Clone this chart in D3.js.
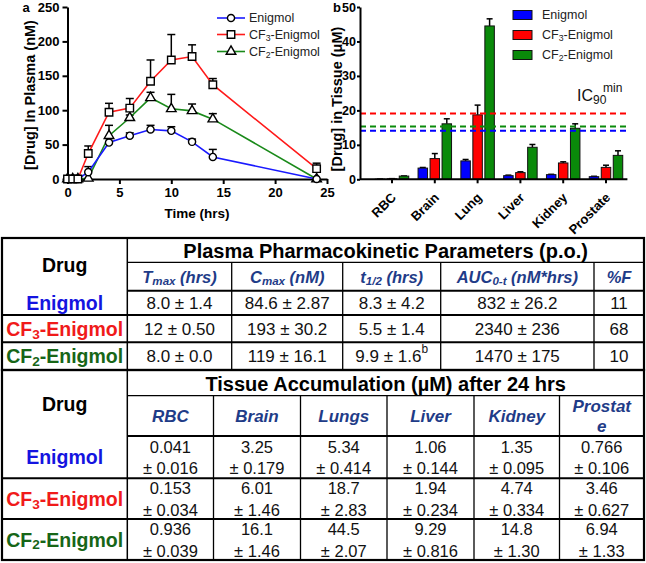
<!DOCTYPE html>
<html><head><meta charset="utf-8">
<script src="https://cdn.jsdelivr.net/npm/d3@7"></script>
<style>body{margin:0;background:#fff}svg{display:block;font-family:Arial,"Liberation Sans",Helvetica,sans-serif}</style>
</head><body><svg id="c" width="646" height="563"></svg>
<script>
// ---------- DATA ----------
const times = [0, 0.5, 1, 2, 4, 6, 8, 10, 12, 14, 24];
const enigmolPlasma = [0, 0, 0, 10, 53, 63, 72, 70, 54, 32, 0];
const enigmolPlasmaErr = [0, 0, 0, 8, 6, 4, 6, 6, 4, 11, 0];
const cf3Plasma = [0, 0, 0, 37, 97, 103, 142, 173, 178, 137, 15];
const cf3PlasmaErr = [0, 0, 0, 11, 13, 14, 31, 37, 17, 9, 8];
const cf2Plasma = [0, 0, 0, 1, 63, 89, 118, 102, 99, 87, 0];
const cf2PlasmaErr = [0, 0, 0, 0, 15, 4, 8, 21, 10, 8, 0];
const plasmaYTicks = [0, 50, 100, 150, 200, 250];
const plasmaXTicks = [0, 5, 10, 15, 20, 25];

const tissues = ["RBC", "Brain", "Lung", "Liver", "Kidney", "Prostate"];
const tissueHeaders = ["RBC", "Brain", "Lungs", "Liver", "Kidney", "Prostate"];
const enigmolTissue = ["0.041", "3.25", "5.34", "1.06", "1.35", "0.766"];
const enigmolTissueErr = ["0.016", "0.179", "0.414", "0.144", "0.095", "0.106"];
const cf3Tissue = ["0.153", "6.01", "18.7", "1.94", "4.74", "3.46"];
const cf3TissueErr = ["0.034", "1.46", "2.83", "0.234", "0.334", "0.627"];
const cf2Tissue = ["0.936", "16.1", "44.5", "9.29", "14.8", "6.94"];
const cf2TissueErr = ["0.039", "1.46", "2.07", "0.816", "1.30", "1.33"];
const ic90min = [14.1, 19.1, 15.3]; // Enigmol, CF3, CF2
const tissueYTicks = [0, 10, 20, 30, 40, 50];

const tmaxVals = ["8.0 ± 1.4", "12 ± 0.50", "8.0 ± 0.0"];
const cmaxVals = ["84.6 ± 2.87", "193 ± 30.2", "119 ± 16.1"];
const halfLifeVals = ["8.3 ± 4.2", "5.5 ± 1.4", "9.9 ± 1.6"];
const halfLifeNote = ["", "", "b"];
const aucVals = ["832 ± 26.2", "2340 ± 236", "1470 ± 175"];
const pctFVals = ["11", "68", "10"];

// ---------- STYLE ----------
const drugs = [
  {parts:[{t:"Enigmol"}], chart:"#1a1aff", table:"#1414e0", marker:"circle",
   plasma:enigmolPlasma, perr:enigmolPlasmaErr, tissue:enigmolTissue, terr:enigmolTissueErr, bar:"#0000ff"},
  {parts:[{t:"CF"},{t:"3",sub:true},{t:"-Enigmol"}], chart:"#ff1a1a", table:"#f01a1a", marker:"square",
   plasma:cf3Plasma, perr:cf3PlasmaErr, tissue:cf3Tissue, terr:cf3TissueErr, bar:"#ff0000"},
  {parts:[{t:"CF"},{t:"2",sub:true},{t:"-Enigmol"}], chart:"#1a8a1a", table:"#176617", marker:"triangle",
   plasma:cf2Plasma, perr:cf2PlasmaErr, tissue:cf2Tissue, terr:cf2TissueErr, bar:"#0a8a0a"}
];
const navy = "#1f3c88";

const svg = d3.select("#c");
svg.append("rect").attr("width",646).attr("height",563).attr("fill","#fff");

function rich(g, x, y, parts, opts){
  const t = g.append("text").attr("x",x).attr("y",y)
    .attr("text-anchor", opts.anchor||"middle")
    .attr("font-size", opts.size).attr("font-weight", opts.weight||"normal")
    .attr("font-style", opts.style||"normal").attr("fill", opts.fill||"#000");
  if (opts.baseline) t.attr("dominant-baseline", opts.baseline);
  let off = 0;
  parts.forEach(p=>{
    const s = t.append("tspan").text(p.t);
    let target = 0;
    if (p.sub) { target = opts.size*0.25; s.attr("font-size", opts.size*0.7); }
    if (p.sup) { target = -opts.size*0.4; s.attr("font-size", opts.size*0.7); }
    if (target !== off) { s.attr("dy", target-off); off = target; }
  });
  return t;
}
function styleAxis(g, fs){
  g.select(".domain").attr("stroke","#000").attr("stroke-width",2);
  g.selectAll(".tick line").attr("stroke","#000").attr("stroke-width",2);
  g.selectAll(".tick text").attr("font-size",fs||13).attr("font-weight","bold").attr("fill","#000")
    .attr("font-family","Arial, 'Liberation Sans', sans-serif");
}
const markerType = {circle:d3.symbolCircle, square:d3.symbolSquare, triangle:d3.symbolTriangle};
const markerSize = {circle:40, square:56, triangle:40};

// ---------- CHART A ----------
const xA = d3.scaleLinear().domain([0,25]).range([67.5,327]);
const yA = d3.scaleLinear().domain([0,250]).range([179,7]);
const gA = svg.append("g");
gA.append("g").attr("transform",`translate(${xA(0)},0)`)
  .call(d3.axisLeft(yA).tickValues(plasmaYTicks).tickSize(5).tickSizeOuter(0).tickPadding(3)).call(styleAxis);
gA.append("g").attr("transform",`translate(0,${yA(0)})`)
  .call(d3.axisBottom(xA).tickValues(plasmaXTicks).tickSize(5).tickSizeOuter(0).tickPadding(4)).call(styleAxis);
gA.append("text").attr("x",197).attr("y",218).attr("text-anchor","middle")
  .attr("font-size",13.5).attr("font-weight","bold").text("Time (hrs)");
gA.append("text").attr("transform","translate(35,95) rotate(-90)").attr("text-anchor","middle")
  .attr("font-size",14.5).attr("font-weight","bold").text("[Drug] In Plasma (nM)");
gA.append("text").attr("x",26).attr("y",12).attr("text-anchor","middle")
  .attr("font-size",13).attr("font-weight","bold").text("a");

const plotOrder = [2,0,1];
plotOrder.forEach(i=>{
  const d = drugs[i];
  const pts = times.map((t,k)=>({t, v:d.plasma[k], e:d.perr[k]}));
  const eg = gA.append("g").attr("stroke","#000").attr("stroke-width",1.5);
  pts.filter(p=>p.e>0).forEach(p=>{
    eg.append("line").attr("x1",xA(p.t)).attr("x2",xA(p.t)).attr("y1",yA(p.v)).attr("y2",yA(p.v+p.e));
    eg.append("line").attr("x1",xA(p.t)-4).attr("x2",xA(p.t)+4).attr("y1",yA(p.v+p.e)).attr("y2",yA(p.v+p.e));
  });
});
plotOrder.forEach(i=>{
  const d = drugs[i];
  const pts = times.map((t,k)=>({t, v:d.plasma[k]}));
  gA.append("path").datum(pts).attr("fill","none").attr("stroke",d.chart).attr("stroke-width",1.6)
    .attr("d", d3.line().x(p=>xA(p.t)).y(p=>yA(p.v)));
});
plotOrder.forEach(i=>{
  const d = drugs[i];
  const sym = d3.symbol().type(markerType[d.marker]).size(markerSize[d.marker]);
  gA.append("g").selectAll("path").data(times.map((t,k)=>({t,v:d.plasma[k]}))).join("path")
    .attr("transform",p=>`translate(${xA(p.t)},${yA(p.v)})`).attr("d",sym)
    .attr("fill","#fff").attr("stroke","#000").attr("stroke-width",1.4);
});
// legend a
const legAy = [18, 34.5, 51.5];
drugs.forEach((d,i)=>{
  const g = gA.append("g");
  g.append("line").attr("x1",217).attr("x2",245).attr("y1",legAy[i]).attr("y2",legAy[i])
    .attr("stroke",d.chart).attr("stroke-width",1.6);
  g.append("path").attr("transform",`translate(231,${legAy[i]})`)
    .attr("d",d3.symbol().type(markerType[d.marker]).size(markerSize[d.marker]))
    .attr("fill","#fff").attr("stroke","#000").attr("stroke-width",1.4);
  rich(g, 249, legAy[i], d.parts, {anchor:"start", size:12.5, baseline:"central", fill:"#222"});
});

// ---------- CHART B ----------
const axisXB = 360;
const xB = d3.scaleBand().domain(tissues).range([370.6,627.4]);
const yB = d3.scaleLinear().domain([0,50]).range([179.3,7]);
const inner = d3.scaleBand().domain([0,1,2]).range([xB.bandwidth()/2-18, xB.bandwidth()/2+18])
  .paddingInner(0.21).paddingOuter(0.105);
const gB = svg.append("g");
// bars
drugs.forEach((d,i)=>{
  const g = gB.append("g");
  tissues.forEach((t,k)=>{
    const v = +d.tissue[k], e = +d.terr[k];
    const x = xB(t)+inner(i), w = inner.bandwidth();
    g.append("line").attr("x1",x+w/2).attr("x2",x+w/2).attr("y1",yB(v)).attr("y2",yB(v+e))
      .attr("stroke","#000").attr("stroke-width",1.5);
    g.append("line").attr("x1",x+w/2-3).attr("x2",x+w/2+3).attr("y1",yB(v+e)).attr("y2",yB(v+e))
      .attr("stroke","#000").attr("stroke-width",1.5);
    g.append("rect").attr("x",x).attr("width",w).attr("y",yB(v)).attr("height",yB(0)-yB(v))
      .attr("fill",d.bar).attr("stroke","#111").attr("stroke-width",1);
  });
});
// dashed IC90 lines
drugs.forEach((d,i)=>{
  gB.append("line").attr("x1",axisXB).attr("x2",xB.range()[1]).attr("y1",yB(ic90min[i])).attr("y2",yB(ic90min[i]))
    .attr("stroke",d.bar).attr("stroke-width",2).attr("stroke-dasharray","6,4");
});
gB.append("g").attr("transform",`translate(${axisXB},0)`)
  .call(d3.axisLeft(yB).tickValues(tissueYTicks).tickSize(3).tickSizeOuter(0).tickPadding(1)).call(styleAxis, 12.5);
const xAxB = gB.append("g").attr("transform",`translate(0,${yB(0)})`)
  .call(d3.axisBottom(xB).tickSize(4).tickSizeOuter(0).tickFormat(""));
styleAxis(xAxB);
xAxB.select(".domain").remove();
xAxB.append("line").attr("x1",axisXB).attr("x2",xB.range()[1]).attr("stroke","#000").attr("stroke-width",2);
tissues.forEach(t=>{
  gB.append("text").attr("transform",`translate(${xB(t)+xB.bandwidth()/2+5},${yB(0)+19}) rotate(-45)`)
    .attr("text-anchor","end").attr("font-size",13).attr("font-weight","bold").text(t);
});
gB.append("text").attr("transform","translate(342,99) rotate(-90)").attr("text-anchor","middle")
  .attr("font-size",14.5).attr("font-weight","bold").text("[Drug] in Tissue (\u03bcM)");
gB.append("text").attr("x",337).attr("y",12).attr("text-anchor","middle")
  .attr("font-size",13).attr("font-weight","bold").text("b");
// IC90 label
const ic = gB.append("text").attr("x",577).attr("y",101).attr("font-size",16).attr("fill","#111");
ic.append("tspan").text("IC");
ic.append("tspan").text("90").attr("font-size",12).attr("dy",3);
ic.append("tspan").text("min").attr("font-size",12).attr("x",603).attr("dy",-12);
// legend b
const legBy = [15, 35, 55];
drugs.forEach((d,i)=>{
  gB.append("rect").attr("x",513).attr("y",legBy[i]-4.5).attr("width",19).attr("height",9)
    .attr("fill",d.bar).attr("stroke","#111").attr("stroke-width",1);
  rich(gB, 542, legBy[i], d.parts, {anchor:"start", size:12.5, baseline:"central", fill:"#222"});
});

// ---------- TABLE 1 ----------
const t1 = svg.append("g");
const c1 = [2, 127.3, 231.7, 342.7, 440.7, 594, 644];
const r1 = [238, 262.3, 290.7, 315, 342.3, 370];
const pkHeaders = [
  [{t:"T"},{t:"max",sub:true},{t:" (hrs)"}],
  [{t:"C"},{t:"max",sub:true},{t:" (nM)"}],
  [{t:"t"},{t:"1/2",sub:true},{t:" (hrs)"}],
  [{t:"AUC"},{t:"0-t",sub:true},{t:" (nM*hrs)"}],
  [{t:"%F"}]
];
const pkCols = [tmaxVals, cmaxVals, halfLifeVals, aucVals, pctFVals];
const mid = (a,b)=>(a+b)/2;
rich(t1, mid(c1[1],c1[6]), mid(r1[0],r1[1])+1, [{t:"Plasma Pharmacokinetic Parameters (p.o.)"}], {size:20, weight:"bold", baseline:"central"});
rich(t1, mid(c1[0],c1[1]), mid(r1[0],r1[2])+1, [{t:"Drug"}], {size:19.5, weight:"bold", baseline:"central"});
pkHeaders.forEach((h,j)=>rich(t1, mid(c1[j+1],c1[j+2]), mid(r1[1],r1[2]), h, {size:16.5, weight:"bold", style:"italic", fill:navy, baseline:"central"}));
drugs.forEach((d,i)=>{
  const y = mid(r1[i+2], r1[i+3]);
  rich(t1, mid(c1[0],c1[1]), y, d.parts, {size:19.5, weight:"bold", fill:d.table, baseline:"central"});
  pkCols.forEach((col,j)=>{
    const parts = [{t:col[i]}];
    if (j===2 && halfLifeNote[i]) parts.push({t:halfLifeNote[i], sup:true});
    rich(t1, mid(c1[j+1],c1[j+2]), y, parts, {size:17, baseline:"central", fill:"#111"});
  });
});
// lines
const ln = (g,x1,y1,x2,y2,w)=>g.append("line").attr("x1",x1).attr("y1",y1).attr("x2",x2).attr("y2",y2)
  .attr("stroke","#000").attr("stroke-width",w);
ln(t1,c1[1],r1[1],c1[6],r1[1],1.3);
ln(t1,c1[1],r1[2],c1[6],r1[2],2);
[3,4].forEach(k=>ln(t1,c1[0],r1[k],c1[6],r1[k],2));
ln(t1,c1[1],r1[0],c1[1],r1[5],1.5);
[2,3,4,5].forEach(k=>ln(t1,c1[k],r1[1],c1[k],r1[5],1.3));
t1.append("rect").attr("x",c1[0]).attr("y",r1[0]).attr("width",c1[6]-c1[0]).attr("height",r1[5]-r1[0])
  .attr("fill","none").attr("stroke","#000").attr("stroke-width",2.2);

// ---------- TABLE 2 ----------
const t2 = svg.append("g");
const c2 = [2, 127.3, 213.5, 300.5, 387, 474, 559.5, 644];
const r2 = [370, 395.7, 436, 478.3, 519, 560];
rich(t2, mid(c2[1],c2[7]), mid(r2[0],r2[1])+1, [{t:"Tissue Accumulation (\u00b5M) after 24 hrs"}], {size:20, weight:"bold", baseline:"central"});
rich(t2, mid(c2[0],c2[1]), mid(r2[0],r2[2])+1, [{t:"Drug"}], {size:19.5, weight:"bold", baseline:"central"});
tissueHeaders.forEach((h,j)=>{
  const x = mid(c2[j+1],c2[j+2]);
  if (h==="Prostate"){
    rich(t2, x, mid(r2[1],r2[2])-9.5, [{t:"Prostat"}], {size:17, weight:"bold", style:"italic", fill:navy, baseline:"central"});
    rich(t2, x, mid(r2[1],r2[2])+10.5, [{t:"e"}], {size:17, weight:"bold", style:"italic", fill:navy, baseline:"central"});
  } else {
    rich(t2, x, mid(r2[1],r2[2]), [{t:h}], {size:17, weight:"bold", style:"italic", fill:navy, baseline:"central"});
  }
});
drugs.forEach((d,i)=>{
  const y = mid(r2[i+2], r2[i+3]);
  rich(t2, mid(c2[0],c2[1]), y, d.parts, {size:19.5, weight:"bold", fill:d.table, baseline:"central"});
  tissues.forEach((t,j)=>{
    const x = mid(c2[j+1],c2[j+2]);
    rich(t2, x, y-10.5, [{t:d.tissue[j]}], {size:16.5, baseline:"central", fill:"#111"});
    rich(t2, x, y+11, [{t:"\u00b1 "+d.terr[j]}], {size:16.5, baseline:"central", fill:"#111"});
  });
});
ln(t2,c2[1],r2[1],c2[7],r2[1],1.3);
ln(t2,c2[1],r2[2],c2[7],r2[2],2);
[3,4].forEach(k=>ln(t2,c2[0],r2[k],c2[7],r2[k],2));
ln(t2,c2[1],r2[0],c2[1],r2[5],1.5);
[2,3,4,5,6].forEach(k=>ln(t2,c2[k],r2[1],c2[k],r2[5],1.3));
t2.append("rect").attr("x",c2[0]).attr("y",r2[0]).attr("width",c2[7]-c2[0]).attr("height",r2[5]-r2[0])
  .attr("fill","none").attr("stroke","#000").attr("stroke-width",2.2);
</script></body></html>
